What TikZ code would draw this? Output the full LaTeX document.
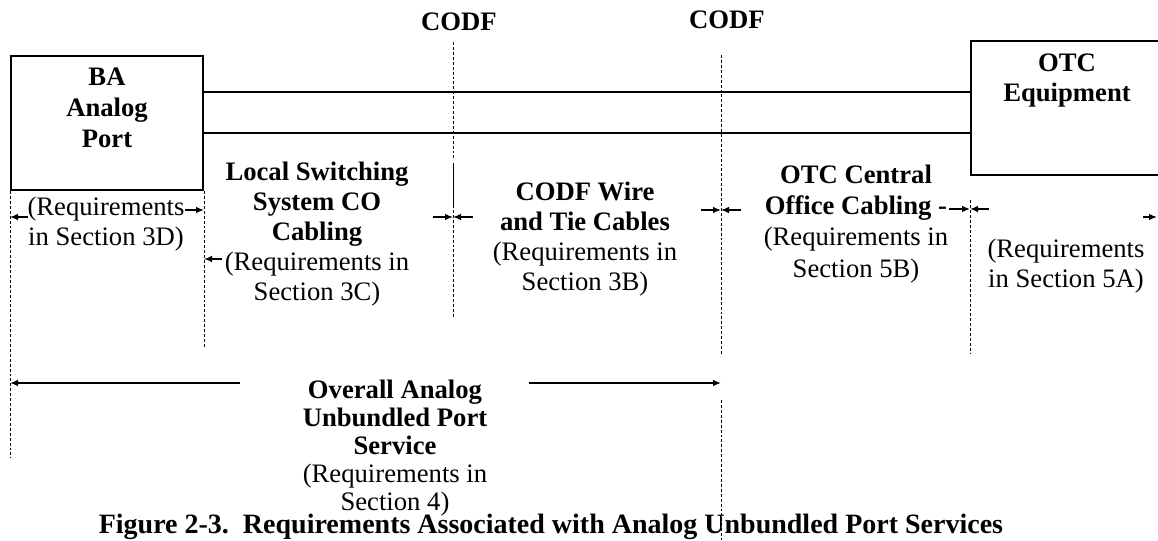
\documentclass[tikz,border=0pt]{standalone}
\usepackage{fontspec}
\setmainfont{Liberation Serif}
\usetikzlibrary{arrows.meta}

\begin{document}
\begin{tikzpicture}[x=0.75pt,y=-0.75pt]
			\tikzset{
			  Box/.style = { draw, line width=1.5pt, inner sep=0pt,
			                 minimum width=144pt, minimum height=100.5pt },
			  Wire/.style = { line width=1.5pt },
			  Mark/.style = { line width=0.6pt, dash pattern=on 2.2pt off 1.5pt },
			  Tip/.style = { {Latex[length=6pt,width=5pt]}-, line width=1.1pt },
			  Txt/.style = { font=\fontsize{20}{22.5}\selectfont, align=center,
			                 inner sep=0pt, anchor=base },
			  Head/.style = { Txt, font=\fontsize{20}{22.5}\selectfont\bfseries } }
			\useasboundingbox (0,0) rectangle (1158,540);
			\clip (0,0) rectangle (1158,540);
			\node[Box] (ba) at (107,123) {};
			\node[Box] (otc) at (1067,108) {};
			\coordinate (codfA) at (453,0);
			\coordinate (codfB) at (721,0);
			\coordinate (edgeR) at (1157,0);
			% the two wires
			\draw[Wire] (ba.east |- 0,92) -- (otc.west |- 0,92);
			\draw[Wire] (ba.east |- 0,133) -- (otc.west |- 0,133);
			% dashed markers
			\draw[Mark] (ba.south west) -- (ba.south west |- 0,458);
			\draw[Mark] (ba.south east) -- (ba.south east |- 0,347);
			\draw[Mark] (codfA |- 0,42) -- (codfA |- 0,160);
			\draw[line width=0.6pt] (codfA |- 0,163) -- (codfA |- 0,208);
			\draw[Mark] (codfA |- 0,210) -- (codfA |- 0,318);
			\draw[Mark] (codfB |- 0,55) -- (codfB |- 0,355);
			\draw[Mark] (codfB |- 0,400) -- (codfB |- 0,540);
			\draw[Mark] (otc.south west |- 0,200) -- (otc.south west |- 0,353);
			% span arrows
			\draw[Tip] (ba.south west |- 0,217) -- ++(18,0);
			\draw[Tip] (ba.south east |- 0,210) -- ++(-19,0);
			\draw[Tip] (ba.south east |- 0,259) -- ++(18,0);
			\draw[Tip] (codfA |- 0,217) -- ++(-20,0);
			\draw[Tip] (codfA |- 0,217) -- ++(20,0);
			\draw[Tip] (codfB |- 0,210) -- ++(-20,0);
			\draw[Tip] (codfB |- 0,210) -- ++(20,0);
			\draw[Tip] (otc.south west |- 0,209) -- ++(-21,0);
			\draw[Tip] (otc.south west |- 0,209) -- ++(19,0);
			\draw[Tip] (edgeR |- 0,217) -- ++(-14,0);
			\draw[Tip, line width=1.5pt] (ba.south west |- 0,383) -- ++(230,0);
			\draw[Tip, line width=1.5pt] (codfB |- 0,383) -- ++(-192,0);
			% labels (placed by the baseline of their last line)
			\node[Head] (codfAlbl) at (459,30) {CODF};
			\node[Head] (codfBlbl) at (727,28) {CODF};
			\node[Head, font=\fontsize{20}{23.25}\selectfont\bfseries] (batext) at (107,147) {BA\\Analog\\Port};
			\node[Head] (otctext) at (1067,101) {OTC\\Equipment};
			\node[Txt] (req3d) at (106,245) {(Requirements\\in Section 3D)};
			\node[Txt] (lss) at (317,300) {\textbf{Local Switching}\\\textbf{System CO}\\\textbf{Cabling}\\(Requirements in\\Section 3C)};
			\node[Txt] (tie) at (585,290) {\textbf{CODF Wire}\\\textbf{and Tie Cables}\\(Requirements in\\Section 3B)};
			\node[Txt, font=\fontsize{20}{23.5}\selectfont] (cab) at (856,277) {\textbf{OTC Central}\\\textbf{Office Cabling -}\\(Requirements in\\Section 5B)};
			\node[Txt] (req5a) at (1066,287) {(Requirements\\in Section 5A)};
			\node[Txt, font=\fontsize{20}{21}\selectfont] (overall) at (395,510) {\textbf{Overall Analog}\\\textbf{Unbundled Port}\\\textbf{Service}\\(Requirements in\\Section 4)};
			\node[Head, font=\fontsize{21}{24}\selectfont\bfseries] (caption) at (551,533) {Figure 2-3.\ \ Requirements Associated with Analog Unbundled Port Services};
		\end{tikzpicture}
\end{document}
